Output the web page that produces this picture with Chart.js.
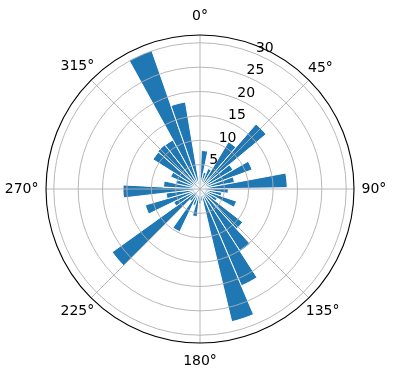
<!DOCTYPE html>
<html>
<head>
<meta charset="utf-8">
<script src="https://cdn.jsdelivr.net/npm/chart.js@4.4.0/dist/chart.umd.min.js"></script>
<style>
  html, body { margin: 0; padding: 0; background: #fff; }
  #wrap { width: 396px; height: 380px; }
</style>
</head>
<body>
<div id="wrap"><canvas id="rose"></canvas></div>
<script>
// counts per direction bin, clockwise from north
const counts = [
  7.9, 3.5, 4.5, 11.3, 17.6, 7.8, 11.4, 7.2, 17.9,
  5.8, 4.5, 7.9, 4.0, 11.1, 15.2, 21.6, 28.0, 2.5,
  3.0, 5.7, 3.5, 9.7, 3.0, 22.2, 6.0, 11.7, 7.0,
  15.8, 7.5, 5.0, 6.5, 11.4, 11.6, 11.5, 30.1, 18.1
];
const sectorLabels = counts.map((_, i) => 'bin ' + (i + 1));
const radialTicks = [5, 10, 15, 20, 25, 30];
const angleTicks = [0, 45, 90, 135, 180, 225, 270, 315];

const rMax = 31.6;
const firstEdge = 2;     // degrees, where the first bin starts
const binWidth = 9.68;   // degrees per bin

const mplGrid = {
  id: 'mplGrid',
  afterDatasetsDraw(chart) {
    const scale = chart.scales.r;
    const ctx = chart.ctx;
    const cx = scale.xCenter, cy = scale.yCenter;
    const outer = scale.getDistanceFromCenterForValue(rMax);
    ctx.save();
    ctx.strokeStyle = '#b0b0b0';
    ctx.lineWidth = 0.9;
    radialTicks.forEach(v => {
      ctx.beginPath();
      ctx.arc(cx, cy, scale.getDistanceFromCenterForValue(v), 0, Math.PI * 2);
      ctx.stroke();
    });
    angleTicks.forEach(a => {
      const t = a * Math.PI / 180;
      ctx.beginPath();
      ctx.moveTo(cx, cy);
      ctx.lineTo(cx + outer * Math.sin(t), cy - outer * Math.cos(t));
      ctx.stroke();
    });
    ctx.strokeStyle = '#000';
    ctx.lineWidth = 1.1;
    ctx.beginPath();
    ctx.arc(cx, cy, outer, 0, Math.PI * 2);
    ctx.stroke();

    ctx.fillStyle = '#000';
    ctx.font = '14px "DejaVu Sans"';
    // radial tick labels along 22.5 deg
    const la = 22.5 * Math.PI / 180;
    ctx.textAlign = 'left';
    ctx.textBaseline = 'alphabetic';
    radialTicks.forEach(v => {
      const d = scale.getDistanceFromCenterForValue(v);
      ctx.fillText(String(v), cx + d * Math.sin(la), cy - d * Math.cos(la) - 2);
    });
    // angle labels
    ctx.textAlign = 'center';
    ctx.textBaseline = 'middle';
    angleTicks.forEach(a => {
      const t = a * Math.PI / 180;
      const s = Math.sin(t), c = Math.cos(t);
      const txt = a + '°';
      const half = ctx.measureText(txt).width / 2;
      const r = outer + 7.5 + Math.max(Math.abs(s) * half, Math.abs(c) * 11);
      ctx.fillText(txt, cx + r * s, cy - r * c);
    });
    ctx.restore();
  }
};

const chart = new Chart(document.getElementById('rose'), {
  type: 'polarArea',
  data: {
    labels: sectorLabels,
    datasets: [{
      label: 'count',
      data: counts,
      backgroundColor: '#1f77b4',
      borderColor: '#ffffff',
      borderWidth: 1,
      angle: binWidth
    }]
  },
  options: {
    responsive: true,
    maintainAspectRatio: false,
    animation: false,
    layout: { padding: { left: 46, right: 42, top: 35, bottom: 37 } },
    plugins: {
      legend: { display: false },
      tooltip: { enabled: false }
    },
    scales: {
      r: {
        min: 0,
        max: rMax,
        startAngle: firstEdge,
        ticks: { display: false },
        grid: { display: false },
        angleLines: { display: false },
        pointLabels: { display: false }
      }
    }
  },
  plugins: [mplGrid]
});
</script>
</body>
</html>
